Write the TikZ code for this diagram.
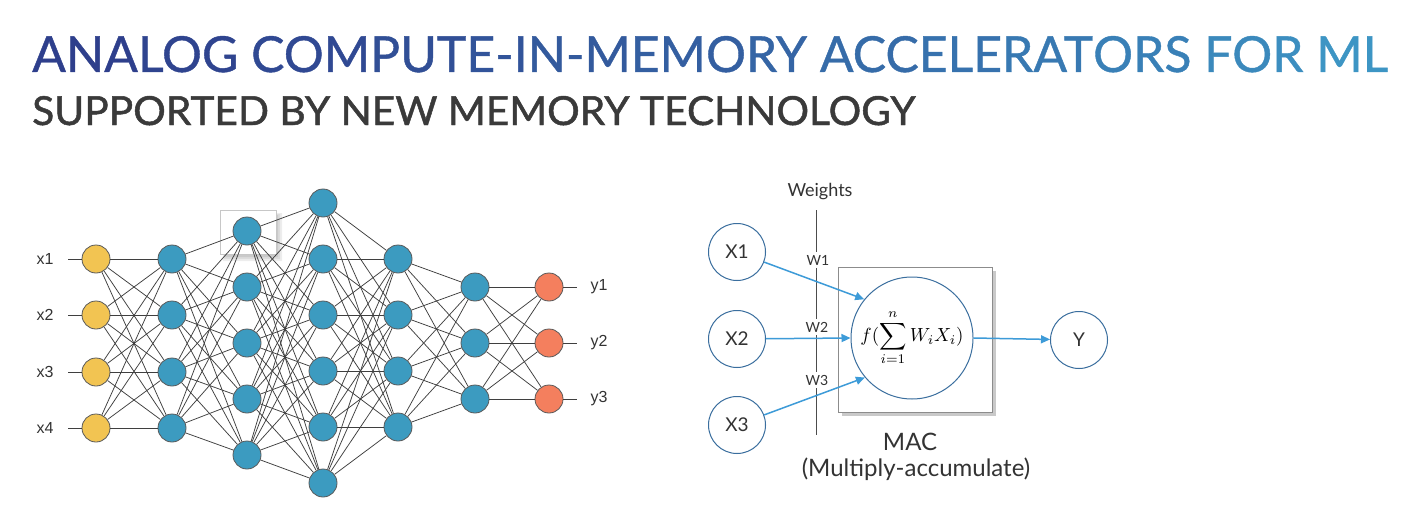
\documentclass[tikz,border=0pt]{standalone}
\usepackage{fontspec}
\setmainfont{Lato}
\newfontfamily\arialf{Liberation Sans}
\newfontfamily\titlef{Lato}[FakeBold=0.8]
\newfontfamily\subf{Lato}[FakeBold=1.2]
\usetikzlibrary{arrows.meta,shadows}
\definecolor{tstart}{HTML}{2E3F8C}
\definecolor{tend}{HTML}{3E9BC8}
\definecolor{subgray}{HTML}{3A3A3A}
\definecolor{nyellow}{HTML}{F2C452}
\definecolor{nblue}{HTML}{3C9BC0}
\definecolor{norange}{HTML}{F47F5E}
\definecolor{ncirc}{HTML}{5A5A5A}
\definecolor{edgegray}{HTML}{3F3F3F}
\definecolor{arrblue}{HTML}{3D9BD8}
\definecolor{macline}{HTML}{3A6E9E}
\definecolor{txtgray}{HTML}{333333}
\newcommand{\gc}[2]{\textcolor{tend!#1!tstart}{#2}}
\begin{document}
\begin{tikzpicture}[x=1pt,y=-1pt,
  neuron/.style={circle, draw=ncirc, line width=0.8pt, minimum size=28pt, inner sep=0pt},
  edge/.style={draw=edgegray, line width=0.75pt},
  nlabel/.style={font=\arialf\fontsize{16}{18}\selectfont, text=txtgray, inner sep=0pt},
  xnode/.style={circle, draw=macline, line width=1pt, minimum size=57pt, inner sep=0pt, font=\fontsize{19}{22}\selectfont, text=txtgray},
  wlabel/.style={fill=white, inner sep=2.5pt, font=\fontsize{14}{16}\selectfont, text=txtgray},
  barrow/.style={draw=arrblue, line width=1.5pt, -{Triangle[length=9pt,width=8pt]}},
  wline/.style={draw=black!70, line width=0.7pt}]
\useasboundingbox (0,0) rectangle (1412,516);
\fill[white] (0,0) rectangle (1412,516);

% titles
\node[anchor=base west, inner sep=0pt] (title) at (32,72) {\resizebox{1356pt}{36pt}{\titlef\fontsize{50}{60}\selectfont
\gc{0}{ANA}\gc{5}{LOG}\ \gc{11}{COM}\gc{17}{PUT}\gc{23}{E-I}\gc{29}{N-M}\gc{35}{EMO}\gc{41}{RY}\ \gc{49}{ACC}\gc{56}{ELE}\gc{63}{RAT}\gc{71}{ORS}\ \gc{80}{FO}\gc{86}{R}\ \gc{93}{ML}}};
\node[anchor=base west, inner sep=0pt, text=subgray] (subtitle) at (32,125) {\resizebox{883pt}{29pt}{\subf\fontsize{40}{48}\selectfont SUPPORTED BY NEW MEMORY TECHNOLOGY}};

% highlight box shadow
\fill[black, opacity=0.07] (276,213) -- (282,213) -- (282,261) -- (223,261) -- (223,254) -- (276,254) -- cycle;
\fill[black, opacity=0.07] (276,214) -- (280,214) -- (280,259) -- (224,259) -- (224,254) -- (276,254) -- cycle;
\fill[black, opacity=0.08] (276,215) -- (278,215) -- (278,257) -- (225,257) -- (225,254) -- (276,254) -- cycle;
\node[draw=black!22, line width=0.8pt, minimum width=56pt, minimum height=44pt, inner sep=0pt] (hl) at (248,232) {};

% network nodes
\foreach \l/\x/\c/\ys in {0/96/nyellow/{259,315,372,428}, 1/172/nblue/{259,315,372,428}, 2/247/nblue/{231,287,343,399,455}, 3/323/nblue/{203,259,315,371,427,483}, 4/398/nblue/{259,315,371,427}, 5/475/nblue/{287,343,399}, 6/549/norange/{287,343,399}}{
  \foreach \y [count=\i] in \ys {
    \node[neuron, fill=\c] (n\l-\i) at (\x,\y) {};
  }
}
% network edges
\foreach \a/\na/\b/\nb in {0/4/1/4, 1/4/2/5, 2/5/3/6, 3/6/4/4, 4/4/5/3, 5/3/6/3}{
  \foreach \i in {1,...,\na}{
    \foreach \j in {1,...,\nb}{
      \draw[edge] (n\a-\i) -- (n\b-\j);
    }
  }
}
% inputs
\foreach \i/\y in {1/259,2/315,3/372,4/428}{
  \coordinate (in\i) at (68,\y);
  \draw[edge] (in\i) -- (n0-\i);
  \node[nlabel] (xl\i) at (45,\y) {x\i};
}
% outputs
\foreach \i/\y in {1/287,2/343,3/399}{
  \coordinate (out\i) at (577,\y);
  \draw[edge] (n6-\i) -- (out\i);
  \node[nlabel] (yl\i) at (599,\y) {y\i};
}

% MAC diagram
\node[draw=black!45, line width=0.8pt, fill=white, minimum width=154pt, minimum height=145pt, inner sep=0pt,
  drop shadow={shadow xshift=4pt, shadow yshift=-4pt, opacity=0.35, fill=black!60}] (box) at (915,339.5) {};
\node[circle, draw=macline, line width=1pt, minimum size=122pt, inner sep=0pt, text=black] (mac) at (912,338)
  {\scalebox{1.9}{$\displaystyle f(\sum_{i=1}^{n} W_iX_i)$}};
\node[xnode] (X1) at (737,252) {X1};
\node[xnode] (X2) at (737,339) {X2};
\node[xnode] (X3) at (737,425) {X3};
\node[xnode] (Y) at (1079,340) {Y};

\node[font=\fontsize{18}{21}\selectfont, text=txtgray] (wts) at (820,192) {Weights};
\coordinate (wt) at (816,210);
\coordinate (wb) at (816,435);
\draw[wline] (wt) -- (wb);
\node[wlabel] (w1) at (818,260) {W1};
\node[wlabel] (w2) at (817,327) {W2};
\node[wlabel] (w3) at (817,380) {W3};

\draw[barrow] (X1) -- (mac.141);
\draw[barrow] (X2) -- (mac.west);
\draw[barrow] (X3) -- (mac.220);
\draw[barrow] (mac.east) -- (Y);

\node[font=\fontsize{24}{28}\selectfont, text=txtgray] (maclab) at (910,442) {MAC};
\node[font=\fontsize{24}{28}\selectfont, text=txtgray] (maclab2) at (916,469) {(Multiply-accumulate)};
\end{tikzpicture}
\end{document}
